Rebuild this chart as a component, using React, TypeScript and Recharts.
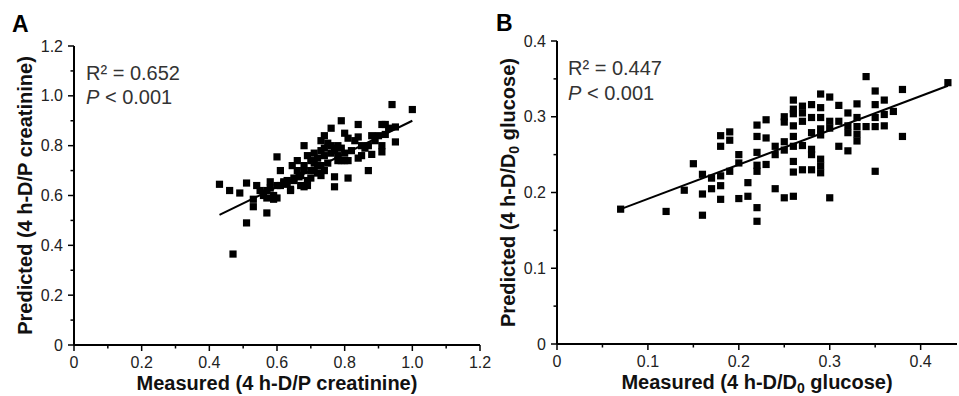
import React from "react";
import {
  Scatter,
  ScatterChart,
  XAxis,
  YAxis,
} from "recharts";

// Panel A: 4 h-D/P creatinine
const creatMeasured = [
  0.43, 0.46, 0.49, 0.51, 0.54, 0.53, 0.53, 0.51, 0.57, 0.47, 0.56, 0.58, 0.58, 0.59, 0.6, 0.61,
  0.62, 0.63, 0.64, 0.645, 0.66, 0.665, 0.65, 0.68, 0.68, 0.68, 0.69, 0.69, 0.71, 0.71, 0.72, 0.73,
  0.73, 0.74, 0.74, 0.76, 0.75, 0.76, 0.77, 0.77, 0.77, 0.78, 0.78, 0.79, 0.8, 0.8, 0.81, 0.81,
  0.81, 0.84, 0.84, 0.84, 0.85, 0.85, 0.87, 0.87, 0.88, 0.88, 0.91, 0.91, 0.91, 0.92, 0.92, 0.94,
  0.95, 0.95, 1.0, 0.56, 0.57, 0.59, 0.6, 0.61, 0.62, 0.64, 0.65, 0.66, 0.67, 0.68, 0.69, 0.7,
  0.7, 0.71, 0.72, 0.73, 0.73, 0.74, 0.75, 0.76, 0.77, 0.78, 0.79, 0.79, 0.8, 0.82, 0.83, 0.86,
  0.89, 0.9, 0.93, 0.55, 0.57, 0.6, 0.63, 0.67, 0.7, 0.72, 0.74,
];
const creatPredicted = [
  0.645, 0.62, 0.61, 0.65, 0.64, 0.585, 0.555, 0.49, 0.53, 0.365, 0.61, 0.63, 0.655, 0.585, 0.755, 0.7,
  0.655, 0.645, 0.625, 0.72, 0.74, 0.675, 0.67, 0.8, 0.7, 0.635, 0.66, 0.76, 0.77, 0.73, 0.69, 0.72,
  0.82, 0.84, 0.79, 0.87, 0.81, 0.8, 0.78, 0.675, 0.635, 0.74, 0.8, 0.9, 0.85, 0.74, 0.83, 0.67,
  0.74, 0.885, 0.835, 0.75, 0.8, 0.76, 0.7, 0.8, 0.84, 0.765, 0.8, 0.775, 0.885, 0.885, 0.845, 0.965,
  0.875, 0.815, 0.945, 0.6, 0.62, 0.6, 0.64, 0.64, 0.65, 0.62, 0.66, 0.7, 0.68, 0.72, 0.64, 0.67,
  0.74, 0.7, 0.75, 0.68, 0.78, 0.76, 0.73, 0.77, 0.79, 0.76, 0.79, 0.74, 0.77, 0.78, 0.82, 0.79,
  0.82, 0.84, 0.87, 0.62, 0.59, 0.59, 0.66, 0.64, 0.7, 0.72, 0.7,
];
const creatFitX = [0.43, 1.0];
const creatFitY = [0.522, 0.9];

// Panel B: 4 h-D/D0 glucose
const glucMeasured = [
  0.07, 0.12, 0.14, 0.15, 0.16, 0.16, 0.16, 0.17, 0.17, 0.18, 0.18, 0.18, 0.18, 0.18, 0.19, 0.19,
  0.19, 0.2, 0.2, 0.2, 0.21, 0.21, 0.22, 0.22, 0.22, 0.22, 0.22, 0.22, 0.22, 0.23, 0.23, 0.23,
  0.24, 0.24, 0.24, 0.25, 0.25, 0.25, 0.25, 0.25, 0.26, 0.26, 0.26, 0.26, 0.26, 0.26, 0.26, 0.26,
  0.26, 0.27, 0.27, 0.27, 0.27, 0.27, 0.28, 0.28, 0.28, 0.28, 0.28, 0.28, 0.29, 0.29, 0.29, 0.29,
  0.29, 0.29, 0.29, 0.29, 0.3, 0.3, 0.3, 0.3, 0.31, 0.31, 0.31, 0.32, 0.32, 0.32, 0.32, 0.33,
  0.33, 0.33, 0.33, 0.33, 0.34, 0.34, 0.35, 0.35, 0.35, 0.35, 0.35, 0.36, 0.36, 0.36, 0.37, 0.38,
  0.38, 0.43,
];
const glucPredicted = [
  0.178, 0.175, 0.203, 0.238, 0.224, 0.198, 0.17, 0.219, 0.205, 0.275, 0.261, 0.222, 0.209, 0.191, 0.28, 0.269,
  0.228, 0.25, 0.239, 0.192, 0.213, 0.195, 0.289, 0.274, 0.253, 0.236, 0.228, 0.18, 0.162, 0.296, 0.272, 0.237,
  0.261, 0.25, 0.205, 0.3, 0.293, 0.267, 0.256, 0.193, 0.322, 0.31, 0.304, 0.288, 0.274, 0.261, 0.241, 0.227,
  0.195, 0.314, 0.305, 0.294, 0.262, 0.23, 0.316, 0.299, 0.279, 0.257, 0.25, 0.23, 0.33, 0.312, 0.299, 0.284,
  0.276, 0.244, 0.235, 0.226, 0.326, 0.294, 0.285, 0.193, 0.315, 0.294, 0.261, 0.305, 0.288, 0.279, 0.255, 0.317,
  0.299, 0.287, 0.277, 0.268, 0.353, 0.287, 0.334, 0.316, 0.299, 0.287, 0.228, 0.322, 0.303, 0.288, 0.307, 0.336,
  0.274, 0.345,
];
const glucFitX = [0.07, 0.43];
const glucFitY = [0.178, 0.341];

// axis ticks
const creatMajor = [0, 0.2, 0.4, 0.6, 0.8, 1.0, 1.2];
const creatMajorLabels = ["0", "0.2", "0.4", "0.6", "0.8", "1.0", "1.2"];
const creatMinor = [0.1, 0.3, 0.5, 0.7, 0.9, 1.1];
const glucMajor = [0, 0.1, 0.2, 0.3, 0.4];
const glucMajorLabels = ["0", "0.1", "0.2", "0.3", "0.4"];
const glucXMinor = [0.05, 0.15, 0.25, 0.35];
const glucYMinor = [0.05, 0.15, 0.25, 0.35];

const toPoints = (xs: number[], ys: number[]) => xs.map((x, i) => ({ x, y: ys[i] }));

const FONT = '"Liberation Sans", Arial, sans-serif';
const TICK_SIZE = 6;
const TICK_MARGIN = 4;

const labelFor = (v: number, major: number[], labels: string[]) => {
  const i = major.findIndex((m) => Math.abs(m - v) < 1e-6);
  return i >= 0 ? labels[i] : null;
};

const makeXTick = (major: number[], labels: string[]) => (props: any) => {
  const { x, y, payload } = props;
  const text = labelFor(payload.value, major, labels);
  const axisY = y - TICK_SIZE - TICK_MARGIN;
  return (
    <g>
      <line x1={x} x2={x} y1={axisY} y2={axisY + (text ? 6 : 3.5)} stroke="#000" strokeWidth={1.5} />
      {text && (
        <text x={x} y={axisY + 12} dy="0.71em" textAnchor="middle" fontSize={16} fill="#222" fontFamily={FONT}>
          {text}
        </text>
      )}
    </g>
  );
};

const makeYTick = (major: number[], labels: string[]) => (props: any) => {
  const { x, y, payload } = props;
  const text = labelFor(payload.value, major, labels);
  const axisX = x + TICK_SIZE + TICK_MARGIN;
  return (
    <g>
      <line x1={axisX - (text ? 6 : 3.5)} x2={axisX} y1={y} y2={y} stroke="#000" strokeWidth={1.5} />
      {text && (
        <text x={axisX - 11} y={y} dy="0.35em" textAnchor="end" fontSize={16} fill="#222" fontFamily={FONT}>
          {text}
        </text>
      )}
    </g>
  );
};

const XTitle = ({ viewBox, main, sub, tail, gap }: any) => {
  const cx = viewBox.x + viewBox.width / 2;
  return (
    <text x={cx} y={viewBox.y + gap} textAnchor="middle" fontSize={20} fontWeight="bold" fill="#111" fontFamily={FONT}>
      {main}
      {sub && (
        <tspan fontSize={14} dy={4}>
          {sub}
        </tspan>
      )}
      {tail && <tspan dy={sub ? -4 : 0}>{tail}</tspan>}
    </text>
  );
};

const YTitle = ({ viewBox, main, sub, tail }: any) => {
  const ax = viewBox.x + viewBox.width - 42;
  const cy = viewBox.y + viewBox.height / 2;
  return (
    <text
      x={ax}
      y={cy}
      transform={`rotate(-90 ${ax} ${cy})`}
      textAnchor="middle"
      fontSize={20}
      fontWeight="bold"
      fill="#111"
      fontFamily={FONT}
    >
      {main}
      {sub && (
        <tspan fontSize={14} dy={4}>
          {sub}
        </tspan>
      )}
      {tail && <tspan dy={sub ? -4 : 0}>{tail}</tspan>}
    </text>
  );
};

const Square = (props: any) => {
  const { cx, cy } = props;
  return <rect x={cx - 3.6} y={cy - 3.6} width={7.2} height={7.2} fill="#000" />;
};
const NoDot = () => <g />;

const sorted = (a: number[], b: number[]) => [...a, ...b].sort((p, q) => p - q);

export default function App() {
  const creatData = toPoints(creatMeasured, creatPredicted);
  const creatFit = toPoints(creatFitX, creatFitY);
  const glucData = toPoints(glucMeasured, glucPredicted);
  const glucFit = toPoints(glucFitX, glucFitY);

  return (
    <div style={{ position: "absolute", left: 0, top: 0, width: 959, height: 396, background: "#fff", overflow: "hidden" }}>
      <div style={{ position: "absolute", left: 0, top: 0 }}>
        <ScatterChart width={500} height={396} margin={{ top: 46, right: 20, bottom: 21, left: 14 }}>
          <XAxis
            type="number"
            dataKey="x"
            domain={[0, 1.2]}
            ticks={sorted(creatMajor, creatMinor)}
            interval={0}
            height={30}
            tickSize={TICK_SIZE}
            tickMargin={TICK_MARGIN}
            tickLine={false}
            axisLine={{ stroke: "#000", strokeWidth: 2 }}
            tick={makeXTick(creatMajor, creatMajorLabels)}
            label={<XTitle main="Measured (4 h-D/P creatinine)" gap={45} />}
          />
          <YAxis
            type="number"
            dataKey="y"
            domain={[0, 1.2]}
            ticks={sorted(creatMajor, creatMinor)}
            interval={0}
            width={60}
            tickSize={TICK_SIZE}
            tickMargin={TICK_MARGIN}
            tickLine={false}
            axisLine={{ stroke: "#000", strokeWidth: 2 }}
            tick={makeYTick(creatMajor, creatMajorLabels)}
            label={<YTitle main="Predicted (4 h-D/P creatinine)" />}
          />
          <Scatter data={creatData} shape={<Square />} isAnimationActive={false} />
          <Scatter
            data={creatFit}
            line={{ stroke: "#000", strokeWidth: 2 }}
            shape={<NoDot />}
            isAnimationActive={false}
          />
        </ScatterChart>
      </div>

      <div style={{ position: "absolute", left: 480, top: 0 }}>
        <ScatterChart width={479} height={396} margin={{ top: 41, right: 2, bottom: 22, left: 17 }}>
          <XAxis
            type="number"
            dataKey="x"
            domain={[0, 0.44]}
            ticks={sorted(glucMajor, glucXMinor)}
            interval={0}
            height={30}
            tickSize={TICK_SIZE}
            tickMargin={TICK_MARGIN}
            tickLine={false}
            axisLine={{ stroke: "#000", strokeWidth: 2 }}
            tick={makeXTick(glucMajor, glucMajorLabels)}
            label={<XTitle main="Measured (4 h-D/D" sub="0" tail=" glucose)" gap={45} />}
          />
          <YAxis
            type="number"
            dataKey="y"
            domain={[0, 0.4]}
            ticks={sorted(glucMajor, glucYMinor)}
            interval={0}
            width={60}
            tickSize={TICK_SIZE}
            tickMargin={TICK_MARGIN}
            tickLine={false}
            axisLine={{ stroke: "#000", strokeWidth: 2 }}
            tick={makeYTick(glucMajor, glucMajorLabels)}
            label={<YTitle main="Predicted (4 h-D/D" sub="0" tail=" glucose)" />}
          />
          <Scatter data={glucData} shape={<Square />} isAnimationActive={false} />
          <Scatter
            data={glucFit}
            line={{ stroke: "#000", strokeWidth: 2 }}
            shape={<NoDot />}
            isAnimationActive={false}
          />
        </ScatterChart>
      </div>

      <svg width={959} height={396} style={{ position: "absolute", left: 0, top: 0, pointerEvents: "none" }}>
        <g fontFamily={FONT}>
          <text x={12} y={32} fontSize={23} fontWeight="bold" fill="#000">A</text>
          <text x={496} y={31} fontSize={23} fontWeight="bold" fill="#000">B</text>
          <text x={86} y={80} fontSize={20} fill="#333">R² = 0.652</text>
          <text x={86} y={104} fontSize={20} fill="#333">
            <tspan fontStyle="italic">P</tspan> &lt; 0.001
          </text>
          <text x={568} y={75} fontSize={20} fill="#333">R² = 0.447</text>
          <text x={568} y={100} fontSize={20} fill="#333">
            <tspan fontStyle="italic">P</tspan> &lt; 0.001
          </text>
        </g>
      </svg>
    </div>
  );
}
